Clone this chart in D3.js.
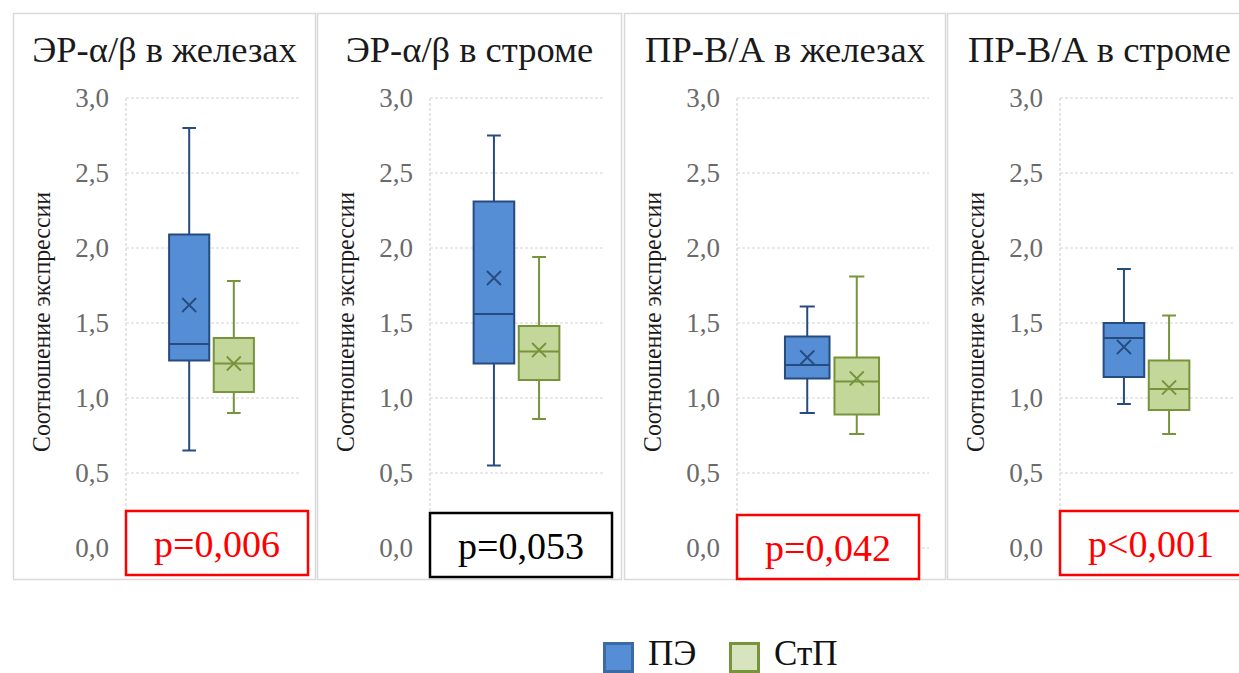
<!DOCTYPE html>
<html><head><meta charset="utf-8">
<script src="https://cdn.jsdelivr.net/npm/d3@7"></script>
<style>html,body{margin:0;background:#fff}</style></head>
<body>
<svg id="chart" width="1239" height="673"></svg>
<script>
// ---- data ----
const panelTitles = ["ЭР-α/β в железах", "ЭР-α/β в строме", "ПР-В/А в железах", "ПР-В/А в строме"];
const seriesNames = ["ПЭ", "СтП"];
const yTicks = [0, 0.5, 1.0, 1.5, 2.0, 2.5, 3.0];
const yAxisTitle = "Соотношение экспрессии";
const pLabels = ["p=0,006", "p=0,053", "p=0,042", "p<0,001"];
const pValues = [0.006, 0.053, 0.042, 0.001];

// ПЭ (blue)
const peMin    = [0.65, 0.55, 0.90, 0.96];
const peQ1     = [1.25, 1.23, 1.13, 1.14];
const peMedian = [1.36, 1.56, 1.22, 1.40];
const peQ3     = [2.09, 2.31, 1.41, 1.50];
const peMax    = [2.80, 2.75, 1.61, 1.86];
const peMean   = [1.62, 1.80, 1.27, 1.34];
// СтП (green)
const stMin    = [0.90, 0.86, 0.76, 0.76];
const stQ1     = [1.04, 1.12, 0.89, 0.92];
const stMedian = [1.23, 1.31, 1.11, 1.06];
const stQ3     = [1.40, 1.48, 1.27, 1.25];
const stMax    = [1.78, 1.94, 1.81, 1.55];
const stMean   = [1.23, 1.32, 1.13, 1.07];

// ---- styles / layout ----
const FONT = "Liberation Serif";
const seriesStyle = {
  "ПЭ":  {fill: "#558ED5", stroke: "#264B7E", legendFill: "#558ED5", legendStroke: "#3C6AA5"},
  "СтП": {fill: "#C4D79B", stroke: "#77933C", legendFill: "#D8E4BD", legendStroke: "#77933C"}
};
const panelLeft  = [13, 317, 624, 947];
const panelWidth = [303, 305, 322, 305];
const panelTop = 13, panelBottom = 579;
const axisOffset = 113, rightPad = 17;

const svg = d3.select("#chart");
const y = d3.scaleLinear().domain([0, 3]).range([548, 98]);
const fmt = v => d3.format(".1f")(v).replace(".", ",");

function addText(parent, size, fill, str) {
  return parent.append("text").style("font-family", `"${FONT}"`).attr("font-size", size)
    .attr("fill", fill).text(str);
}

function stats(i, s) {
  return s === "ПЭ"
    ? {min: peMin[i], q1: peQ1[i], med: peMedian[i], q3: peQ3[i], max: peMax[i], mean: peMean[i]}
    : {min: stMin[i], q1: stQ1[i], med: stMedian[i], q3: stQ3[i], max: stMax[i], mean: stMean[i]};
}

panelTitles.forEach((title, i) => {
  const L = panelLeft[i], W = panelWidth[i];
  const x0 = L + axisOffset, x1 = L + W - rightPad;

  svg.append("rect").attr("x", L + 0.5).attr("y", panelTop + 0.5)
    .attr("width", W - 1).attr("height", panelBottom - panelTop)
    .attr("fill", "#fff").attr("stroke", "#D9D9D9").attr("stroke-width", 1.5);

  addText(svg, 36.5, "#1a1a1a", title).attr("x", L + W / 2).attr("y", 62).attr("text-anchor", "middle");

  yTicks.forEach(t => svg.append("line").attr("x1", x0).attr("x2", x1).attr("y1", y(t)).attr("y2", y(t))
    .attr("stroke", "#D4D4D4").attr("stroke-width", 1.2).attr("stroke-dasharray", "3,2"));
  svg.append("line").attr("x1", x0).attr("x2", x0).attr("y1", y(3)).attr("y2", y(0))
    .attr("stroke", "#D4D4D4").attr("stroke-width", 1.2).attr("stroke-dasharray", "3,2");

  // tick labels positioned by the y scale
  yTicks.forEach(t => addText(svg, 27, "#6A6A6A", fmt(t))
    .attr("x", x0 - 17).attr("y", y(t) + 9).attr("text-anchor", "end"));

  addText(svg, 25, "#1a1a1a", yAxisTitle)
    .attr("transform", `translate(${x0 - 76},322) rotate(-90)`)
    .attr("text-anchor", "middle").attr("textLength", 260).attr("lengthAdjust", "spacingAndGlyphs");

  const W2 = x1 - x0;
  const xOuter = d3.scaleBand().domain([title]).range([x0, x1]).paddingOuter(0).paddingInner(0);
  const groupW = 0.49 * W2;
  const gStart = xOuter(title) + (xOuter.bandwidth() - groupW) / 2 - 1;
  const xInner = d3.scaleBand().domain(seriesNames).range([gStart, gStart + groupW]).paddingInner(0.1);
  const bw = xInner.bandwidth();

  seriesNames.forEach(s => {
    const st = stats(i, s), sty = seriesStyle[s];
    const bx = xInner(s), cx = bx + bw / 2, cap = bw * 0.17;
    svg.append("line").attr("x1", cx).attr("x2", cx).attr("y1", y(st.max)).attr("y2", y(st.q3))
      .attr("stroke", sty.stroke).attr("stroke-width", 2);
    svg.append("line").attr("x1", cx).attr("x2", cx).attr("y1", y(st.q1)).attr("y2", y(st.min))
      .attr("stroke", sty.stroke).attr("stroke-width", 2);
    [st.max, st.min].forEach(v => svg.append("line").attr("x1", cx - cap).attr("x2", cx + cap)
      .attr("y1", y(v)).attr("y2", y(v)).attr("stroke", sty.stroke).attr("stroke-width", 2));
    svg.append("rect").attr("x", bx).attr("y", y(st.q3)).attr("width", bw)
      .attr("height", y(st.q1) - y(st.q3)).attr("fill", sty.fill)
      .attr("stroke", sty.stroke).attr("stroke-width", 2);
    svg.append("line").attr("x1", bx).attr("x2", bx + bw).attr("y1", y(st.med)).attr("y2", y(st.med))
      .attr("stroke", sty.stroke).attr("stroke-width", 2);
    const m = 7, my = y(st.mean);
    svg.append("path").attr("d", `M${cx - m},${my - m}L${cx + m},${my + m}M${cx - m},${my + m}L${cx + m},${my - m}`)
      .attr("stroke", sty.stroke).attr("stroke-width", 1.8).attr("fill", "none");
  });

  const col = pValues[i] < 0.05 ? "#FF0000" : "#000000";
  const pb = {x: x0, w: 182, y: i === 0 ? 511 : (i === 1 ? 513 : (i === 2 ? 515 : 511)), h: 64};
  svg.append("rect").attr("x", pb.x).attr("y", pb.y).attr("width", pb.w).attr("height", pb.h)
    .attr("fill", "#fff").attr("stroke", col).attr("stroke-width", 2.5);
  addText(svg, 38, col, pLabels[i]).attr("x", pb.x + pb.w / 2).attr("y", pb.y + pb.h / 2 + 14)
    .attr("text-anchor", "middle");
});

const legendX = [603, 729];
seriesNames.forEach((s, k) => {
  const sty = seriesStyle[s];
  svg.append("rect").attr("x", legendX[k] + 1.5).attr("y", 643.5).attr("width", 28).attr("height", 28)
    .attr("fill", sty.legendFill).attr("stroke", sty.legendStroke).attr("stroke-width", 3);
  addText(svg, 35, "#111", s).attr("x", legendX[k] + 45).attr("y", 665);
});
</script>
</body></html>
